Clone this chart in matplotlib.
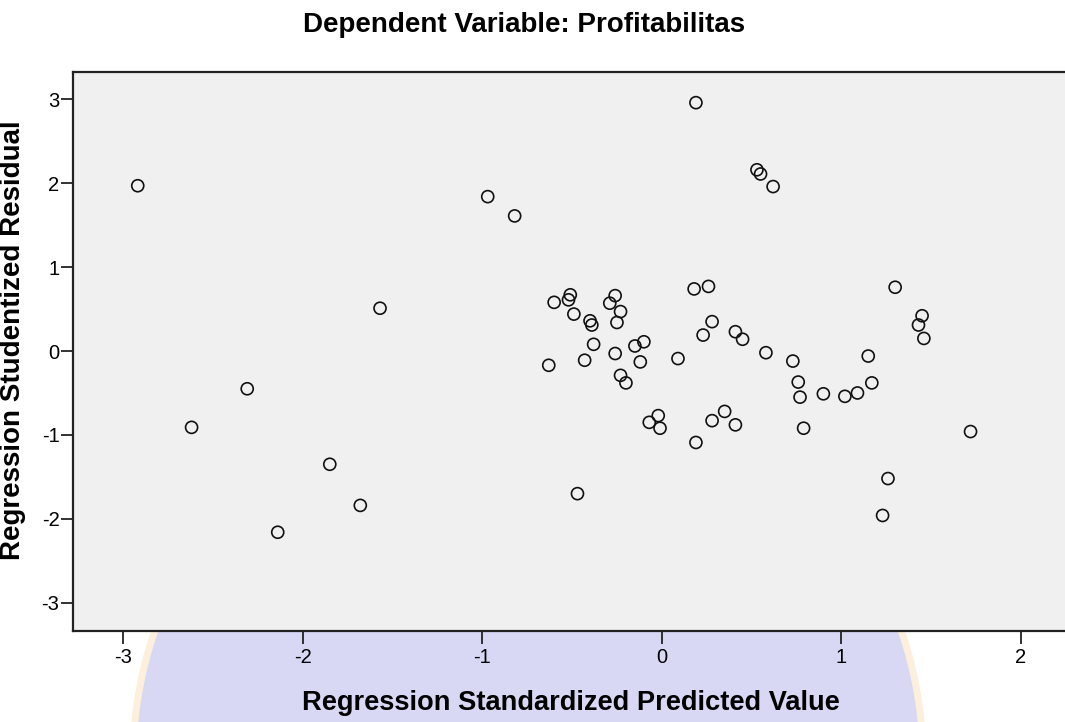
import matplotlib.pyplot as plt
from matplotlib.patches import Circle

plt.rcParams['font.family'] = ['Liberation Sans', 'DejaVu Sans']
plt.rcParams['axes.unicode_minus'] = False

# standardized predicted value vs studentized residual
pred = [-2.92, -2.62, -2.31, -2.14, -1.85, -1.68, -1.57, -0.97, -0.82,
        -0.60, -0.51, -0.52, -0.49, -0.40, -0.39, -0.29, -0.26, -0.23, -0.25,
        -0.38, -0.43, -0.63, -0.26, -0.15, -0.10, -0.12, -0.23, -0.20, 0.09,
        0.18, 0.23, -0.07, -0.02, -0.01, 0.19, -0.47, 0.26, 0.28, 0.41, 0.45,
        0.58, 0.73, 0.76, 0.77, 0.90, 1.02, 1.09, 1.17, 1.15, 1.30, 1.45,
        1.43, 1.46, 0.28, 0.35, 0.41, 0.79, 1.26, 0.19, 0.53, 0.55, 0.62,
        1.72, 1.23]
resid = [1.97, -0.91, -0.45, -2.16, -1.35, -1.84, 0.51, 1.84, 1.61,
         0.58, 0.67, 0.61, 0.44, 0.36, 0.31, 0.57, 0.66, 0.47, 0.34,
         0.08, -0.11, -0.17, -0.03, 0.06, 0.11, -0.13, -0.29, -0.38, -0.09,
         0.74, 0.19, -0.85, -0.77, -0.92, -1.09, -1.70, 0.77, 0.35, 0.23, 0.14,
         -0.02, -0.12, -0.37, -0.55, -0.51, -0.54, -0.50, -0.38, -0.06, 0.76, 0.42,
         0.31, 0.15, -0.83, -0.72, -0.88, -0.92, -1.52, 2.96, 2.16, 2.11, 1.96,
         -0.96, -1.96]

xticks = [-3, -2, -1, 0, 1, 2]
yticks = [-3, -2, -1, 0, 1, 2, 3]

fig = plt.figure(figsize=(10.65, 7.22), dpi=100)

# faint watermark behind the chart
wm = Circle((5.28, -0.38), 3.95, transform=fig.dpi_scale_trans,
            facecolor='#d8d8f4', edgecolor='#fcefdc', linewidth=5, zorder=-5)
fig.patches.append(wm)

ax = fig.add_axes([73.3 / 1065, 91 / 722, (1068 - 73.3) / 1065, (631 - 71.7) / 722])
ax.set_facecolor('#f0f0f0')
ax.scatter(pred, resid, s=75, facecolors='none', edgecolors='#111111', linewidths=1.2, zorder=3)

ax.set_xlim(-3.279, 2.263)
ax.set_ylim(-3.337, 3.329)
ax.set_xticks(xticks)
ax.set_yticks(yticks)
ax.tick_params(length=9, width=1.3, color='#222222', labelsize=14.5, direction='out')
ax.tick_params(axis='x', pad=3)
ax.tick_params(axis='y', pad=1)

for side in ['left', 'bottom', 'top']:
    ax.spines[side].set_color('#222222')
    ax.spines[side].set_linewidth(1.6)
ax.spines['right'].set_visible(False)

fig.text(524 / 1065, 1 - 31.7 / 722, 'Dependent Variable: Profitabilitas',
         ha='center', va='baseline', fontsize=20, fontweight='bold')
fig.text(571 / 1065, 1 - 710 / 722, 'Regression Standardized Predicted Value',
         ha='center', va='baseline', fontsize=19.6, fontweight='bold')
fig.text(13 / 1065, 1 - 340 / 722, 'Regression Studentized Residual',
         ha='center', va='center', rotation=90, fontsize=20, fontweight='bold')

fig.savefig('out.png', dpi=100)
